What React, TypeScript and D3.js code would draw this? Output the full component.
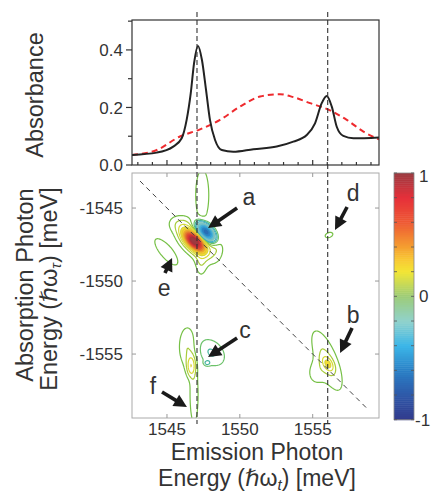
import React, { useMemo } from 'react';
import * as d3 from 'd3';

const W = 433;
const H = 492;
const FONT = '"Liberation Sans", Arial, "DejaVu Sans", sans-serif';

// ---- top panel: linear absorbance (meV, absorbance) ----
const blackE = [1542.6, 1544.3, 1545.43, 1546.01, 1546.35, 1546.63, 1546.86, 1547.13, 1547.4, 1547.68, 1547.95, 1548.3, 1548.76, 1549.55, 1550.93, 1552.53, 1553.67, 1554.59, 1555.16, 1555.62, 1555.96, 1556.31, 1556.65, 1557.1, 1557.79, 1559.55];
const blackA = [0.035, 0.043, 0.064, 0.093, 0.157, 0.249, 0.354, 0.414, 0.365, 0.261, 0.157, 0.087, 0.052, 0.046, 0.055, 0.064, 0.081, 0.104, 0.145, 0.215, 0.24, 0.203, 0.133, 0.101, 0.093, 0.096];
const redE = [1542.6, 1544.3, 1545.89, 1547.27, 1548.64, 1550.01, 1551.39, 1552.76, 1553.67, 1554.82, 1556.19, 1557.34, 1558.48, 1559.55];
const redA = [0.035, 0.052, 0.099, 0.124, 0.157, 0.203, 0.238, 0.246, 0.236, 0.215, 0.19, 0.157, 0.116, 0.089];

const absTicks = [0, 0.2, 0.4];
const absMinorTicks = [0.1, 0.3, 0.5];
const emissionTicks = [1545, 1550, 1555];
const emissionMinorTicks = d3.range(1543, 1560);
const absorptionTicks = [-1545, -1550, -1555];
const cbLabels = [1, 0, -1];
const cbTicks = d3.range(-1, 1.01, 0.2);

const excitonE = [1547.06, 1556.03];
const diagonalE = [1543.15, 1558.8];

// ---- 2D spectrum peaks (emission meV, absorption meV, amplitude, widths meV, tilt deg) ----
const peakEx = [1546.86, 1547.68, 1546.92, 1547.42, 1547.34, 1546.05, 1548.4, 1544.95, 1546.65, 1546.86, 1546.4, 1548.05, 1547.75, 1556.05, 1555.98, 1555.23, 1556.12];
const peakEy = [-1547.26, -1546.64, -1547.33, -1544.11, -1548.7, -1546.05, -1547.5, -1548.0, -1555.82, -1557.81, -1554.5, -1554.9, -1555.61, -1555.68, -1555.45, -1556.3, -1546.85];
const peakAmp = [1.0, -0.72, 0.12, 0.065, 0.055, 0.045, 0.06, 0.06, 0.14, 0.065, 0.07, -0.075, -0.07, 0.14, 0.08, 0.045, 0.04];
const peakSMaj = [0.55, 0.5, 1.1, 1.4, 0.7, 0.6, 0.6, 0.95, 0.48, 1.5, 1.0, 0.75, 0.15, 0.34, 1.55, 0.62, 0.36];
const peakSMin = [0.27, 0.27, 0.55, 0.36, 0.27, 0.38, 0.36, 0.34, 0.2, 0.22, 0.42, 0.55, 0.12, 0.2, 0.5, 0.45, 0.22];
const peakAngle = [-45, -45, -45, 90, 90, 0, 90, -50, 90, 90, 90, -45, 0, -60, -68, 90, 20];

const levels = [0.03, 0.07, 0.12, 0.18, 0.25, 0.35, 0.45, 0.55, 0.65, 0.75, 0.85, 0.95];
const FILL_FROM = 0.18;
const lineLevels = [-0.12, -0.07, -0.03, 0.03, 0.07, 0.12];
const lineColors = ['#3fb0c8', '#48b4a0', '#6cc26a', '#76c046', '#a8cc3a', '#d6da34'];

// ---- annotations (meV) ----
const arrowLabel = ['a', 'b', 'c', 'd', 'e', 'f'];
const arrowTailX = [1549.81, 1557.7, 1549.81, 1557.36, 1544.86, 1544.66];
const arrowTailY = [-1545.0, -1553.22, -1553.9, -1544.93, -1549.45, -1557.6];
const arrowTipX = [1547.82, 1556.88, 1547.82, 1556.53, 1545.35, 1546.37];
const arrowTipY = [-1546.37, -1554.93, -1555.2, -1546.5, -1548.42, -1558.63];
const labelX = [1550.63, 1557.77, 1550.36, 1557.77, 1544.8, 1544.04];
const labelY = [-1544.24, -1552.33, -1553.35, -1543.97, -1550.48, -1557.19];

// colour map
const cmapStops = [-1, -0.8, -0.6, -0.4, -0.2, 0, 0.2, 0.3, 0.4, 0.6, 0.8, 1];
const cmapColors = ['#323a8c', '#2e58a8', '#2a80c6', '#3cb6e8', '#90d2cc', '#9ccc78', '#f2e636', '#f8c832', '#f5a030', '#ee5a34', '#e6303a', '#9b3a40'];

const xScale = d3.scaleLinear().domain([1542.6, 1559.55]).range([132, 379]);
const absScale = d3.scaleLinear().domain([0, 0.504]).range([165, 20]);
const yScale = d3.scaleLinear().domain([-1542.6, -1559.38]).range([173, 418]);
const cbScale = d3.scaleLinear().domain([1, -1]).range([173, 419.7]);
const cmap = d3.scaleLinear<string>().domain(cmapStops).range(cmapColors).interpolate(d3.interpolateRgb).clamp(true);

const STEP = 0.05;

function lineColor(v: number) {
  const k = lineLevels.findIndex((l) => Math.abs(l - v) < 1e-6);
  if (k >= 0) return lineColors[k];
  return d3.color(cmap(v))!.darker(0.2).formatHex();
}

function useContours() {
  return useMemo(() => {
    const [x0, x1] = xScale.domain();
    const [yTop, yBot] = yScale.domain();
    const nx = Math.round((x1 - x0) / STEP) + 1;
    const ny = Math.round((yTop - yBot) / STEP) + 1;
    const vals = new Float64Array(nx * ny);
    const comps = peakEx.map((_, k) => {
      const t = (peakAngle[k] * Math.PI) / 180;
      return { cx: peakEx[k], cy: peakEy[k], a: peakAmp[k], c: Math.cos(t), s: Math.sin(t), m: peakSMaj[k], n: peakSMin[k] };
    });
    for (let j = 0; j < ny; j++) {
      const y = yTop - j * STEP;
      for (let i = 0; i < nx; i++) {
        const x = x0 + i * STEP;
        let v = 0;
        for (const p of comps) {
          const dx = x - p.cx;
          const dy = y - p.cy;
          const u = dx * p.c + dy * p.s;
          const w = -dx * p.s + dy * p.c;
          v += p.a * Math.exp(-(u * u) / (2 * p.m * p.m) - (w * w) / (2 * p.n * p.n));
        }
        vals[j * nx + i] = v;
      }
    }
    const neg = vals.map((v) => -v);
    const gen = d3.contours().size([nx, ny]).smooth(true);
    const proj = d3.geoTransform({
      point(px: number, py: number) {
        this.stream.point(xScale(x0 + (px - 0.5) * STEP), yScale(yTop - (py - 0.5) * STEP));
      },
    });
    const path = d3.geoPath(proj);
    const out: { d: string; level: number; sign: number }[] = [];
    for (const sign of [1, -1]) {
      const src = sign > 0 ? (vals as any) : (neg as any);
      for (const lv of levels) {
        const g = gen.contour(src, lv);
        if (g.coordinates.length) out.push({ d: path(g as any) || '', level: lv, sign });
      }
    }
    return out;
  }, []);
}

function Arrow({ x1, y1, x2, y2 }: { x1: number; y1: number; x2: number; y2: number }) {
  const len = Math.hypot(x2 - x1, y2 - y1);
  const ux = (x2 - x1) / len;
  const uy = (y2 - y1) / len;
  const hl = 13;
  const hw = 6.5;
  const bx = x2 - ux * hl;
  const by = y2 - uy * hl;
  return (
    <g>
      <line x1={x1} y1={y1} x2={bx + ux * 2} y2={by + uy * 2} stroke="#1a1a1a" strokeWidth={3.6} />
      <polygon
        points={`${x2},${y2} ${bx - uy * hw},${by + ux * hw} ${bx + uy * hw},${by - ux * hw}`}
        fill="#1a1a1a"
      />
    </g>
  );
}

export default function App() {
  const contours = useContours();
  const [px0, px1] = xScale.range();
  const [py0, py1] = yScale.range();
  const [ty0, ty1] = [absScale(0.504), absScale(0)];

  const line = d3
    .line<number>()
    .x((_, i) => xScale(blackE[i]))
    .y((a) => absScale(a))
    .curve(d3.curveMonotoneX);
  const redLine = d3
    .line<number>()
    .x((_, i) => xScale(redE[i]))
    .y((a) => absScale(a))
    .curve(d3.curveMonotoneX);

  const cbBands = d3.range(0, 120).map((k) => -1 + (k + 0.5) * (2 / 120));
  const textCol = '#333';

  return (
    <svg width={W} height={H} style={{ position: 'absolute', left: 0, top: 0, background: '#fff' }} fontFamily={FONT}>
      <defs>
        <clipPath id="mapClip">
          <rect x={px0} y={py0} width={px1 - px0} height={py1 - py0} />
        </clipPath>
        <clipPath id="topClip">
          <rect x={px0} y={ty0} width={px1 - px0} height={ty1 - ty0} />
        </clipPath>
      </defs>

      {/* ---------- top panel ---------- */}
      <g clipPath="url(#topClip)">
        <path d={redLine(redA) || ''} fill="none" stroke="#ee2a2e" strokeWidth={2} strokeDasharray="6,4" />
        <path d={line(blackA) || ''} fill="none" stroke="#222" strokeWidth={2} />
      </g>
      <rect x={px0} y={ty0} width={px1 - px0} height={ty1 - ty0} fill="none" stroke="#333" strokeWidth={1.2} />
      {absTicks.map((t) => (
        <g key={t}>
          <line x1={px0 - 6} x2={px0} y1={absScale(t)} y2={absScale(t)} stroke="#333" strokeWidth={1.2} />
          <text x={px0 - 9} y={absScale(t)} dy="0.36em" textAnchor="end" fontSize={17} fill={textCol}>
            {t.toFixed(1)}
          </text>
        </g>
      ))}
      {absMinorTicks.map((t) => (
        <line key={t} x1={px0 - 4} x2={px0} y1={absScale(t)} y2={absScale(t)} stroke="#333" strokeWidth={1.2} />
      ))}
      {emissionMinorTicks.map((e) => (
        <line
          key={e}
          x1={xScale(e)}
          x2={xScale(e)}
          y1={ty1}
          y2={ty1 - (e % 5 === 0 ? 5 : 3)}
          stroke="#333"
          strokeWidth={1.2}
        />
      ))}
      <text transform={`translate(43,95) rotate(-90)`} textAnchor="middle" fontSize={23.5} fill={textCol}>
        Absorbance
      </text>

      {/* ---------- 2D map ---------- */}
      <g clipPath="url(#mapClip)">
        {contours
          .filter((c) => c.level >= FILL_FROM)
          .map((c, i) => (
            <path key={'f' + i} d={c.d} fill={cmap(c.sign * (c.level + 0.05))} stroke="none" />
          ))}
        {contours.map((c, i) => (
          <path key={'l' + i} d={c.d} fill="none" stroke={lineColor(c.sign * c.level)} strokeWidth={1.2} />
        ))}
        <line
          x1={xScale(diagonalE[0])}
          y1={yScale(-diagonalE[0])}
          x2={xScale(diagonalE[1])}
          y2={yScale(-diagonalE[1])}
          stroke="#444"
          strokeWidth={1}
          strokeDasharray="5,4"
        />
      </g>
      <rect x={px0} y={py0} width={px1 - px0} height={py1 - py0} fill="none" stroke="#aaa" strokeWidth={1} />
      {emissionTicks.map((e) => (
        <g key={e}>
          <line x1={xScale(e)} x2={xScale(e)} y1={py1} y2={py1 - 4} stroke="#999" />
          <line x1={xScale(e)} x2={xScale(e)} y1={py0} y2={py0 + 4} stroke="#999" />
          <text x={xScale(e)} y={435} textAnchor="middle" fontSize={17} fill={textCol}>
            {e}
          </text>
        </g>
      ))}
      {absorptionTicks.map((e) => (
        <g key={e}>
          <line x1={px0} x2={px0 + 4} y1={yScale(e)} y2={yScale(e)} stroke="#999" />
          <line x1={px1} x2={px1 - 4} y1={yScale(e)} y2={yScale(e)} stroke="#999" />
          <text x={123} y={yScale(e)} dy="0.36em" textAnchor="end" fontSize={17} fill={textCol}>
            {e}
          </text>
        </g>
      ))}

      {/* exciton lines through both panels */}
      {excitonE.map((e) => (
        <line key={e} x1={xScale(e)} x2={xScale(e)} y1={12} y2={424} stroke="#333" strokeWidth={1.1} strokeDasharray="5,3" />
      ))}

      {/* arrows and labels */}
      {arrowLabel.map((l, i) => (
        <g key={l}>
          <Arrow x1={xScale(arrowTailX[i])} y1={yScale(arrowTailY[i])} x2={xScale(arrowTipX[i])} y2={yScale(arrowTipY[i])} />
          <text x={xScale(labelX[i])} y={yScale(labelY[i])} dy="0.33em" textAnchor="middle" fontSize={23} fill={textCol}>
            {l}
          </text>
        </g>
      ))}

      {/* axis titles */}
      <text x={257} y={460} textAnchor="middle" fontSize={23} fill={textCol}>
        Emission Photon
      </text>
      <text x={257} y={486} textAnchor="middle" fontSize={23} fill={textCol}>
        <tspan>Energy (</tspan>
        <tspan>ℏω</tspan>
        <tspan dy={4} fontSize={15} fontStyle="italic">t</tspan>
        <tspan dy={-4}>) [meV]</tspan>
      </text>
      <text transform={`translate(32.5,285) rotate(-90)`} textAnchor="middle" fontSize={23.5} fill={textCol}>
        Absorption Photon
      </text>
      <text transform={`translate(57,289) rotate(-90)`} textAnchor="middle" fontSize={23.5} fill={textCol}>
        <tspan>Energy (</tspan>
        <tspan>ℏω</tspan>
        <tspan dy={4} fontSize={15} fontStyle="italic">τ</tspan>
        <tspan dy={-4}>) [meV]</tspan>
      </text>

      {/* colour bar */}
      {cbBands.map((v, k) => (
        <rect key={k} x={394} width={20} y={cbScale(v + 1 / 120)} height={cbScale(v - 1 / 120) - cbScale(v + 1 / 120) + 0.5} fill={cmap(v)} />
      ))}
      <rect x={394} y={cbScale(1)} width={20} height={cbScale(-1) - cbScale(1)} fill="none" stroke="#888" strokeWidth={0.8} />
      {cbTicks.map((t, k) => (
        <g key={k}>
          <line x1={394} x2={397} y1={cbScale(t)} y2={cbScale(t)} stroke="#555" strokeWidth={0.8} />
          <line x1={414} x2={411} y1={cbScale(t)} y2={cbScale(t)} stroke="#555" strokeWidth={0.8} />
        </g>
      ))}
      {cbLabels.map((t) => (
        <text key={t} x={t < 0 ? 415 : 419} y={cbScale(t) + (t === 1 ? 3 : 0)} dy="0.36em" fontSize={17} fill={textCol}>
          {t}
        </text>
      ))}
    </svg>
  );
}
